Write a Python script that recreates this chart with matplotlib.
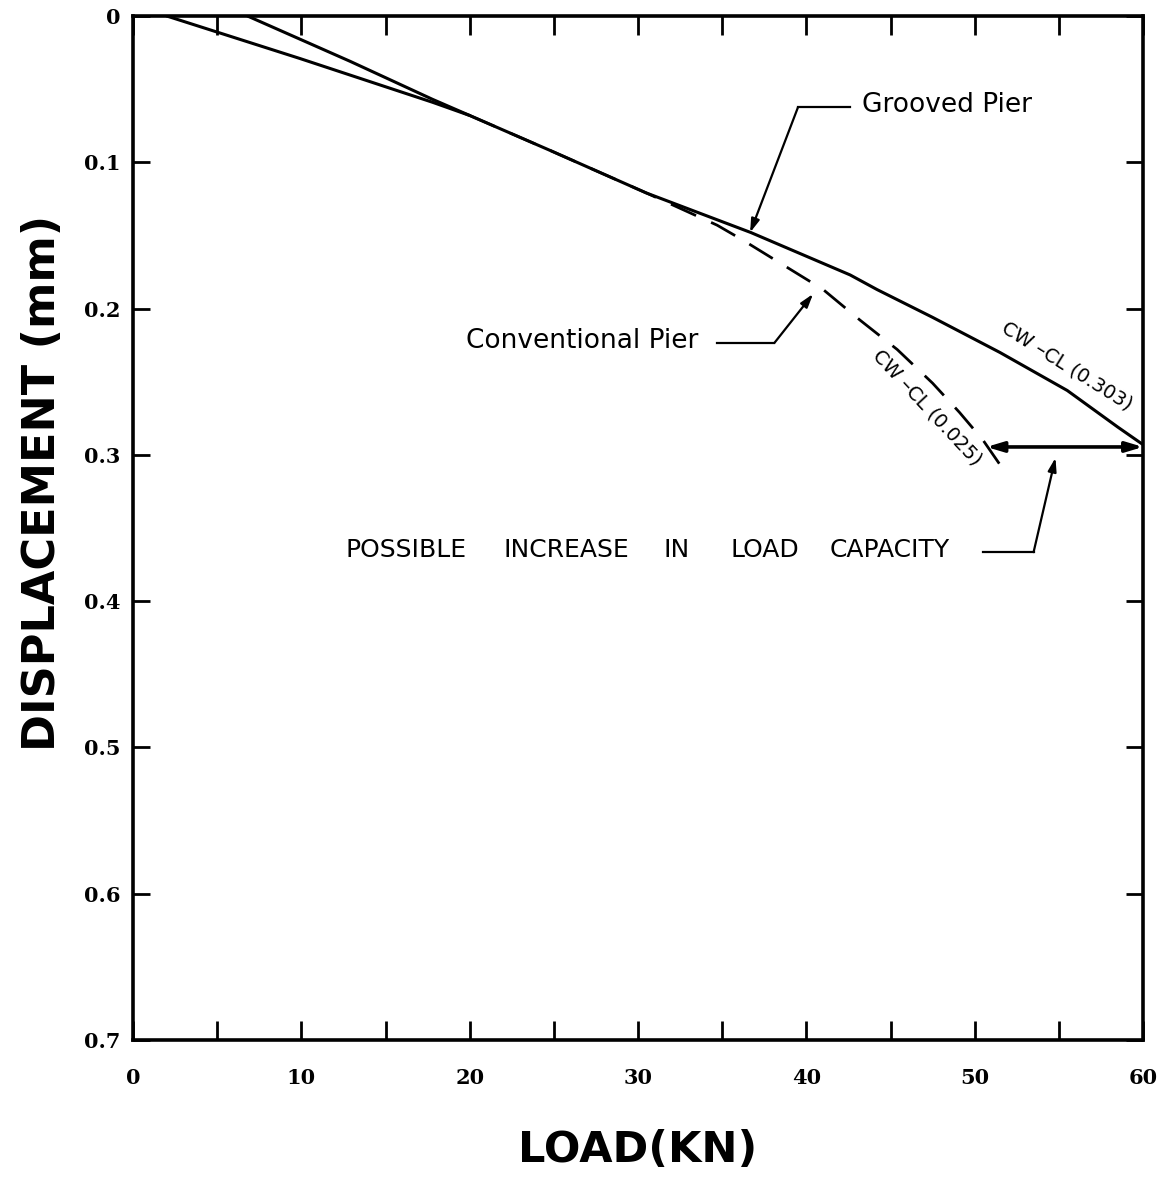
import matplotlib
matplotlib.use("Agg")
import matplotlib.pyplot as plt
import numpy as np

# ---- data ----
grooved_load = [6.8, 12.9, 17.8, 20.0, 24.8, 30.5, 36.7, 42.6, 44.2, 47.5, 51.5, 55.5, 58.5, 60.0]
grooved_disp = [0.0, 0.031, 0.057, 0.068, 0.092, 0.121, 0.148, 0.177, 0.187, 0.206, 0.230, 0.256, 0.281, 0.293]

conv_load = [2.0, 9.9, 17.8, 20.0, 24.8, 30.5, 34.7, 36.2, 38.6, 41.0, 43.2, 45.4, 47.5, 49.1, 50.5, 51.7]
conv_disp = [0.0, 0.029, 0.059, 0.068, 0.092, 0.121, 0.143, 0.153, 0.170, 0.187, 0.208, 0.228, 0.251, 0.271, 0.290, 0.310]
conv_dash_from = 20.0

capacity_disp = 0.2946
capacity_from = 50.7
capacity_to = 60.0

x_ticks = [0, 5, 10, 15, 20, 25, 30, 35, 40, 45, 50, 55, 60]
x_ticklabels = ["0", "", "10", "", "20", "", "30", "", "40", "", "50", "", "60"]
y_ticks = [0, 0.1, 0.2, 0.3, 0.4, 0.5, 0.6, 0.7]
y_ticklabels = ["0", "0.1", "0.2", "0.3", "0.4", "0.5", "0.6", "0.7"]

caption_words = ["POSSIBLE", "INCREASE", "IN", "LOAD", "CAPACITY"]
caption_word_x = [12.6, 22.0, 31.5, 35.5, 41.4]

# ---- figure ----
fig = plt.figure(figsize=(11.68, 11.77), dpi=100)
ax = fig.add_axes([0.1139, 0.1164, 0.8647, 0.870])

ink = "black"
lw = 2.2

ax.plot(grooved_load, grooved_disp, color=ink, lw=lw, solid_capstyle="round")

cl = np.array(conv_load)
cd = np.array(conv_disp)
m1 = cl <= conv_dash_from
m2 = cl >= conv_dash_from
ax.plot(cl[m1], cd[m1], color=ink, lw=lw, solid_capstyle="round")
ax.plot(cl[m2], cd[m2], color=ink, lw=lw * 0.9, linestyle=(0, (10, 6)))

ax.set_xlim(0, 60)
ax.set_ylim(0.7, 0)

ax.set_xticks(x_ticks)
ax.set_xticklabels(x_ticklabels)
ax.set_yticks(y_ticks)
ax.set_yticklabels(y_ticklabels)

ax.tick_params(axis="x", direction="in", length=14, width=2, top=True, bottom=True, pad=20)
ax.tick_params(axis="y", direction="in", length=12, width=2, left=True, right=True, pad=9)
for lab in ax.get_xticklabels() + ax.get_yticklabels():
    lab.set_fontfamily("DejaVu Serif")
    lab.set_fontweight("bold")
    lab.set_fontsize(15)

for s in ax.spines.values():
    s.set_linewidth(2.6)

ax.set_xlabel("LOAD(KN)", fontsize=31, fontweight="bold", family="DejaVu Sans", labelpad=30)
ax.set_ylabel("DISPLACEMENT (mm)", fontsize=32, fontweight="bold", family="DejaVu Sans")
ax.yaxis.set_label_coords(-0.068, 0.544)

lab_font = dict(family="DejaVu Sans", fontsize=19, color=ink)
arrow_kw = dict(arrowstyle="-|>,head_length=0.8,head_width=0.25", color=ink, lw=1.6,
                shrinkA=0, shrinkB=0)

# Grooved Pier annotation
ax.text(43.3, 0.061, "Grooved Pier", va="center", ha="left", **lab_font)
ax.plot([42.6, 39.5], [0.0625, 0.0625], color=ink, lw=1.6)
ax.annotate("", xy=(36.66, 0.148), xytext=(39.5, 0.0625), arrowprops=arrow_kw)

# Conventional Pier annotation
ax.text(19.8, 0.222, "Conventional Pier", va="center", ha="left", **lab_font)
ax.plot([34.7, 38.1], [0.2235, 0.2235], color=ink, lw=1.6)
ax.annotate("", xy=(40.4, 0.190), xytext=(38.1, 0.2235), arrowprops=arrow_kw)

# Possible increase annotation
for w, wx in zip(caption_words, caption_word_x):
    ax.text(wx, 0.365, w, va="center", ha="left", family="DejaVu Sans", fontsize=18, color=ink)
ax.plot([50.5, 53.5], [0.3665, 0.3665], color=ink, lw=1.6)
ax.annotate("", xy=(54.8, 0.302), xytext=(53.5, 0.3665), arrowprops=arrow_kw)

# double arrow
ax.annotate("", xy=(capacity_to, capacity_disp), xytext=(capacity_from, capacity_disp),
            arrowprops=dict(arrowstyle="<|-|>,head_length=1.0,head_width=0.3", color=ink, lw=2.6,
                            shrinkA=0, shrinkB=0))

# curve labels
ax.text(55.5, 0.239, "CW –CL (0.303)", rotation=-32, rotation_mode="anchor", ha="center", va="center",
        family="DejaVu Sans", fontsize=14, color=ink)
ax.text(47.2, 0.268, "CW –CL (0.025)", rotation=-47, rotation_mode="anchor", ha="center", va="center",
        family="DejaVu Sans", fontsize=14, color=ink)

fig.savefig("out.png", dpi=100)
